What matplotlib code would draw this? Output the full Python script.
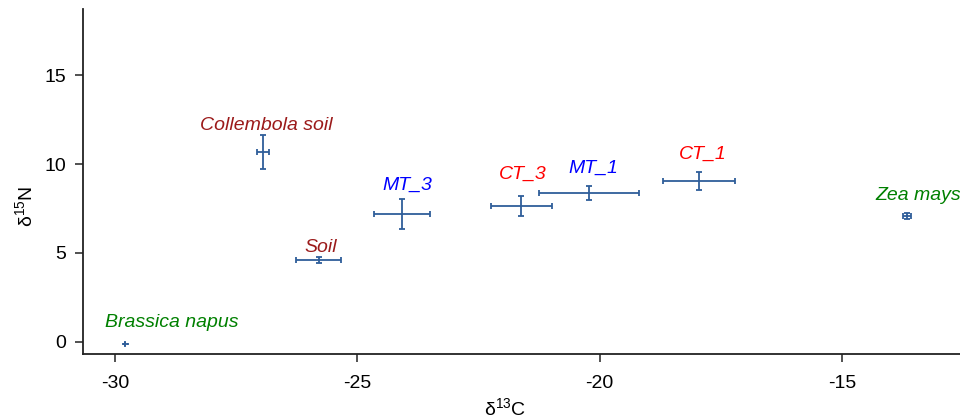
import matplotlib
matplotlib.use("Agg")
import matplotlib.pyplot as plt
import numpy as np

plt.rcParams['font.family'] = ['Liberation Sans', 'DejaVu Sans']
plt.rcParams['mathtext.fontset'] = 'custom'
plt.rcParams['mathtext.rm'] = 'Liberation Sans'
plt.rcParams['mathtext.it'] = 'Liberation Sans:italic'
plt.rcParams['axes.unicode_minus'] = False

# -------------------------------
# Data
# -------------------------------
names = ["Brassica napus", "Collembola soil", "Soil", "MT_3",
         "CT_3", "MT_1", "CT_1", "Zea mays"]
d13c = [-29.79, -26.95, -25.80, -24.08, -21.62, -20.22, -17.95, -13.65]
d15n = [-0.13, 10.70, 4.60, 7.19, 7.64, 8.37, 9.07, 7.09]
err_c = [0.05, 0.13, 0.46, 0.58, 0.63, 1.04, 0.74, 0.08]
err_n = [0.12, 0.95, 0.17, 0.86, 0.54, 0.39, 0.50, 0.18]
label_colors = ["#008000", "#9b1a1a", "#9b1a1a", "#0000ff",
                "#ff0000", "#0000ff", "#ff0000", "#008000"]
# label offsets from point, in pixels (dx, dy of baseline)
label_dx = [46, 3, 2, 5, 2, 4, 4, 11]
label_dy = [17, 22, 8, 24, 27, 20, 22, 16]
caps = [0.8, 2.4, 2.4, 2.4, 2.4, 2.4, 2.4, 2.0]

fig = plt.figure(figsize=(9.6, 4.18), dpi=100)
ax = fig.add_axes([0.0861, 0.1524, 0.9139, 0.8254])

for x, y, ex, ey, cs in zip(d13c, d15n, err_c, err_n, caps):
    ax.errorbar(x, y, xerr=ex, yerr=ey, fmt='none',
                ecolor="#2f5e9a", elinewidth=1.3, capsize=cs, capthick=1.3)

for x, y, name, c, dx, dy in zip(d13c, d15n, names, label_colors, label_dx, label_dy):
    ax.annotate(name, (x, y), xytext=(dx, dy), textcoords='offset pixels',
                ha='center', va='baseline', color=c, fontsize=14,
                fontstyle='italic')

ax.set_xlim(-30.67, -12.56)
ax.set_ylim(-0.71, 18.72)
ax.set_xticks([-30, -25, -20, -15])
ax.set_yticks([0, 5, 10, 15])
ax.tick_params(labelsize=14, length=6, width=1.2, color='#333333', pad=6)
ax.tick_params(axis='x', pad=9)

for s in ['top', 'right']:
    ax.spines[s].set_visible(False)
for s in ['left', 'bottom']:
    ax.spines[s].set_linewidth(1.3)
    ax.spines[s].set_color('#222222')

ax.set_xlabel('δ$^{13}$C', fontsize=14)
ax.xaxis.set_label_coords(0.481, -0.124)
ax.set_ylabel('δ$^{15}$N', fontsize=14)
ax.yaxis.set_label_coords(-0.053, 0.43)

fig.savefig("out.png", dpi=100)
